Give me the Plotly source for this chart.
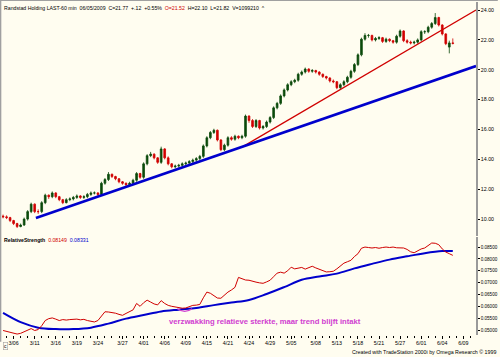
import plotly.graph_objects as go

# ---------------- data (60-min bars) -------------
opens = [10.2,10.15,10.1,9.9,9.7,9.5,9.6,10.0,10.5,11.0, 10.5,10.5,11.1,11.6,11.5,11.75,11.5,11.3,11.1,11.3,
         11.35,11.45,11.55,11.45,11.5,11.65,11.75,11.75,11.65,12.4, 12.65,13.0,12.85,12.7,12.5,12.4,12.3,12.4,12.6,13.05,
         12.8,13.7,14.25,14.35,14.1,13.8,14.7,14.1,13.7,13.5, 13.55,13.6,13.7,13.75,13.85,13.95,14.05,14.2,14.9,15.45,
         15.8,15.95,15.3,14.65,14.95,15.45,15.35,15.55,15.45,15.55, 16.9,16.6,16.2,16.6,16.1,16.2,16.5,16.8,17.45,17.75,
         18.25,18.65,19.0,19.2,19.3,19.7,19.85,20.05,19.9,19.95, 19.85,19.7,19.55,19.45,19.25,19.2,18.8,19.0,19.2,19.5,
         19.9,20.35,21.0,22.05,22.3,22.3,22.0,22.1,22.15,21.9, 22.05,21.95,21.85,22.25,22.6,21.95,21.85,21.8,21.85,22.0,
         22.55,22.55,22.85,23.1,23.5,23.0,22.4,21.52,21.8]
highs = [10.3,10.25,10.15,9.95,9.75,9.7,10.1,10.6,11.1,11.05, 10.65,11.2,11.7,11.65,11.85,11.8,11.55,11.35,11.4,11.45,
         11.55,11.65,11.6,11.6,11.75,11.85,11.85,11.8,12.5,12.75, 13.15,13.05,12.9,12.75,12.55,12.45,12.5,12.7,13.15,13.1,
         13.8,14.35,14.5,14.4,14.15,14.85,14.75,14.2,13.75,13.65, 13.7,13.8,13.85,13.95,14.05,14.15,14.3,15.0,15.55,15.9,
         16.05,16.0,15.35,15.05,15.55,15.55,15.65,15.6,15.65,17.0, 16.95,16.7,16.7,16.65,16.3,16.6,16.9,17.55,17.85,18.35,
         18.75,19.1,19.3,19.4,19.8,19.95,20.15,20.1,20.05,20.0, 19.9,19.75,19.6,19.5,19.35,19.25,19.1,19.3,19.6,20.0,
         20.45,21.1,22.15,22.45,22.4,22.35,22.2,22.25,22.2,22.15, 22.1,22.0,22.35,22.7,22.65,22.05,21.95,21.95,22.1,22.65,
         22.65,22.95,23.2,23.8,23.55,23.05,22.45,21.95,22.1]
lows = [10.05,10.0,9.8,9.6,9.4,9.45,9.55,9.9,10.4,10.4, 10.35,10.4,11.0,11.35,11.4,11.4,11.2,11.0,11.05,11.2,
        11.25,11.35,11.35,11.35,11.4,11.55,11.65,11.55,11.6,12.3, 12.55,12.75,12.6,12.4,12.3,12.2,12.2,12.3,12.5,12.7,
        12.7,13.6,14.15,14.0,13.7,13.7,14.0,13.6,13.4,13.4, 13.45,13.5,13.6,13.65,13.75,13.85,13.95,14.1,14.8,15.35,
        15.7,15.2,14.55,14.55,14.85,15.25,15.25,15.35,15.35,15.45, 16.45,16.1,16.1,16.0,16.0,16.1,16.4,16.7,17.35,17.65,
        18.15,18.55,18.9,19.1,19.2,19.6,19.75,19.8,19.8,19.75, 19.6,19.45,19.35,19.15,19.1,18.7,18.7,18.9,19.1,19.4,
        19.8,20.25,20.9,21.95,22.15,21.9,21.9,22.0,21.8,21.8, 21.85,21.75,21.75,22.15,21.85,21.75,21.7,21.7,21.75,21.9,
        22.4,22.45,22.75,23.0,22.9,22.3,21.65,21.1,21.7]
closes = [10.15,10.1,9.9,9.7,9.5,9.6,10.0,10.5,11.0,10.5, 10.5,11.1,11.6,11.5,11.75,11.5,11.3,11.1,11.3,11.35,
          11.45,11.55,11.45,11.5,11.65,11.75,11.75,11.65,12.4,12.65, 13.0,12.85,12.7,12.5,12.4,12.3,12.4,12.6,13.05,12.8,
          13.7,14.25,14.35,14.1,13.8,14.7,14.1,13.7,13.5,13.55, 13.6,13.7,13.75,13.85,13.95,14.05,14.2,14.9,15.45,15.8,
          15.95,15.3,14.65,14.95,15.45,15.35,15.55,15.45,15.55,16.9, 16.6,16.2,16.6,16.1,16.2,16.5,16.8,17.45,17.75,18.25,
          18.65,19.0,19.2,19.3,19.7,19.85,20.05,19.9,19.95,19.85, 19.7,19.55,19.45,19.25,19.2,18.8,19.0,19.2,19.5,19.9,
          20.35,21.0,22.05,22.3,22.3,22.0,22.1,22.15,21.9,22.05, 21.95,21.85,22.25,22.6,21.95,21.85,21.8,21.85,22.0,22.55,
          22.55,22.85,23.1,23.5,23.0,22.4,21.75,21.8,21.77]
bars = list(range(len(closes)))

rel_strength = [0.0498,0.0494,0.0490,0.0488,0.0483,0.0486,0.0492,0.0500,0.0506,0.0498,
                0.0502,0.0518,0.0540,0.0548,0.0551,0.0546,0.0540,0.0544,0.0542,0.0544,
                0.0546,0.0546,0.0543,0.0545,0.0540,0.0536,0.0534,0.0540,0.0560,0.0577,
                0.0576,0.0574,0.0571,0.0566,0.0562,0.0570,0.0578,0.0585,0.0612,0.0600,
                0.0615,0.0626,0.0618,0.0610,0.0606,0.0624,0.0612,0.0604,0.0600,0.0597,
                0.0594,0.0592,0.0593,0.0598,0.0604,0.0605,0.0608,0.0636,0.0660,0.0655,
                0.0645,0.0635,0.0634,0.0648,0.0660,0.0669,0.0680,0.0722,0.0715,0.0711,
                0.0710,0.0705,0.0702,0.0699,0.0697,0.0703,0.0710,0.0725,0.0740,0.0744,
                0.0740,0.0750,0.0765,0.0758,0.0760,0.0764,0.0757,0.0762,0.0769,0.0762,
                0.0756,0.0750,0.0745,0.0746,0.0748,0.0758,0.0770,0.0782,0.0788,0.0794,
                0.0810,0.0822,0.0845,0.0850,0.0848,0.0846,0.0848,0.0845,0.0848,0.0850,
                0.0848,0.0850,0.0847,0.0848,0.0846,0.0840,0.0830,0.0826,0.0834,0.0842,
                0.0846,0.0858,0.0867,0.0866,0.0860,0.0842,0.0829,0.0822,0.0815]
rs_avg_bars = [0,5,10,15,20,25,30,35,40,45,50,55,60,65,70,75,80,85,90,95,100,105,110,115,120,125,128]
rs_avg = [0.0572,0.0533,0.0510,0.0504,0.0504,0.0510,0.0527,0.0548,0.0563,0.0578,0.0586,0.0593,0.0605,
          0.0616,0.0627,0.0652,0.0681,0.0712,0.0726,0.0738,0.0760,0.0779,0.0797,0.0811,0.0824,0.0833,0.0833]

# trendlines (bar index, price)
blue_trend_x = [9.35, 134.6]
blue_trend_y = [10.07, 20.25]
red_trend_x = [68.0, 134.6]
red_trend_y = [14.82, 24.0]

date_ticks = [3,9,15,21,27,34,40,46,52,58,64,70,76,82,89,95,101,107,113,119,125,131]
date_labels = ["3/06","3/11","3/16","3/19","3/24","3/27","4/01","4/06","4/09","4/15","4/21",
               "4/24","4/29","5/05","5/08","5/13","5/18","5/21","5/27","6/01","6/04","6/09"]
price_ticks = [10,12,14,16,18,20,22,24]
rs_ticks = [0.05,0.055,0.06,0.065,0.07,0.075,0.08,0.085]

BG = "#FFFDF0"
FONT = "Liberation Sans"
GREEN = "#0B4A0B"
RED = "#D00000"
BLUE = "#0000CC"
MAGENTA = "#D040D0"

fig = go.Figure()
fig.add_trace(go.Candlestick(
    x=bars, open=opens, high=highs, low=lows, close=closes,
    increasing=dict(line=dict(color=GREEN, width=0.8), fillcolor=GREEN),
    decreasing=dict(line=dict(color=RED, width=0.8), fillcolor=RED),
    whiskerwidth=0, xaxis="x", yaxis="y", showlegend=False))
fig.add_trace(go.Scatter(x=red_trend_x, y=red_trend_y, mode="lines",
                         line=dict(color=RED, width=1.2), xaxis="x", yaxis="y", showlegend=False))
fig.add_trace(go.Scatter(x=blue_trend_x, y=blue_trend_y, mode="lines",
                         line=dict(color=BLUE, width=2.6), xaxis="x", yaxis="y", showlegend=False))
fig.add_trace(go.Scatter(x=rs_avg_bars, y=rs_avg, mode="lines", line=dict(color=BLUE, width=2, shape="spline"),
                         xaxis="x2", yaxis="y2", showlegend=False))
fig.add_trace(go.Scatter(x=bars, y=rel_strength, mode="lines", line=dict(color=RED, width=1),
                         xaxis="x2", yaxis="y2", showlegend=False))

axis_line = "#9A9A9A"
xr = [-0.3, 134.6]
fig.update_layout(
    width=500, height=357,
    margin=dict(l=2, r=22, t=2, b=22),
    paper_bgcolor=BG, plot_bgcolor=BG,
    font=dict(family=FONT, size=5.5, color="#000000"),
    xaxis=dict(domain=[0, 1], range=xr, anchor="y", showticklabels=False, showgrid=False,
               zeroline=False, rangeslider=dict(visible=False), ticks=""),
    yaxis=dict(domain=[0.297, 1], range=[8.86, 24.54], side="right", anchor="x",
               tickvals=price_ticks, ticktext=[f"{v:.2f}" for v in price_ticks],
               ticks="outside", ticklen=2, tickcolor="#000", showgrid=False, zeroline=False,
               showline=True, linecolor=axis_line, linewidth=1.5, ticklabelstandoff=0,
               tickfont=dict(size=5.3, family=FONT)),
    xaxis2=dict(domain=[0, 1], range=xr, anchor="y2", showgrid=False, zeroline=False,
                tickvals=date_ticks, ticktext=date_labels, ticks="outside", ticklen=3,
                tickcolor="#000", tickfont=dict(size=5.3, family=FONT),
                minor=dict(ticks="outside", ticklen=2, tick0=3, dtick=2, tickcolor="#000"),
                showline=False),
    yaxis2=dict(domain=[0, 0.294], range=[0.0479, 0.0892], side="right", anchor="x2",
                tickvals=rs_ticks, ticktext=[f"{v:.5f}" for v in rs_ticks],
                ticks="outside", ticklen=2, tickcolor="#000", showgrid=False, zeroline=False,
                showline=True, linecolor=axis_line, linewidth=1.5, ticklabelstandoff=0,
                tickfont=dict(size=4.6, family=FONT)),
)

# magenta arc marking the weakening
fig.add_shape(type="path", xref="x2", yref="y2",
              path="M 49.6,0.0590 Q 51.7,0.0568 53.8,0.0590",
              line=dict(color=MAGENTA, width=1.2))

# borders
fig.add_shape(type="line", xref="paper", yref="paper", x0=-0.003, x1=-0.003, y0=-0.02, y1=1.006,
              line=dict(color="#A0A0A0", width=1.5))
fig.add_shape(type="line", xref="paper", yref="paper", x0=-0.004, x1=1.046, y0=1.005, y1=1.005,
              line=dict(color="#A0A0A0", width=1.5))

fig.add_annotation(xref="paper", yref="paper", x=0.0, y=0.982, xanchor="left", yanchor="middle",
                   showarrow=False, font=dict(size=5.2, family=FONT, color="#000"),
                   text=("Randstad Holding LAST-60 min&nbsp;&nbsp;06/05/2009&nbsp;&nbsp;C=21.77&nbsp;&nbsp;+.12&nbsp;&nbsp;+0.55%&nbsp;&nbsp;"
                         "<span style='color:#D00000'>O=21.52</span>&nbsp;&nbsp;H=22.10&nbsp;&nbsp;L=21.82&nbsp;&nbsp;V=1099210&nbsp;&nbsp;^"))
fig.add_annotation(xref="paper", yref="paper", x=0.0, y=0.285, xanchor="left", yanchor="middle",
                   showarrow=False, font=dict(size=5.2, family=FONT, color="#000"),
                   text=("<b>RelativeStrength</b>&nbsp;&nbsp;<span style='color:#D00000'>0.08149</span>"
                         "&nbsp;&nbsp;<span style='color:#0000CC'>0.08331</span>"))
fig.add_annotation(xref="x2", yref="y2", x=46.7, y=0.0534, xanchor="left", yanchor="middle",
                   showarrow=False, font=dict(size=7.7, family=FONT, color=MAGENTA),
                   text="<b>verzwakking relatieve sterkte, maar trend blijft intakt</b>")
fig.add_annotation(xref="paper", yref="paper", x=1.046, y=-0.051, xanchor="right", yanchor="middle",
                   showarrow=False, font=dict(size=5.3, family=FONT, color="#000"),
                   text="Created with TradeStation 2000i by Omega Research © 1999")
fig.add_annotation(xref="paper", yref="paper", x=0.002, y=-0.033, xanchor="left", yanchor="middle",
                   showarrow=False, font=dict(size=5.0, family=FONT, color="#000"),
                   bordercolor="#A0A0A0", borderwidth=0.6, borderpad=0.5, text="c")

fig.write_html("out.html", config={"displayModeBar": False},
               post_script="document.body.style.margin='0';document.body.style.overflow='hidden';")
